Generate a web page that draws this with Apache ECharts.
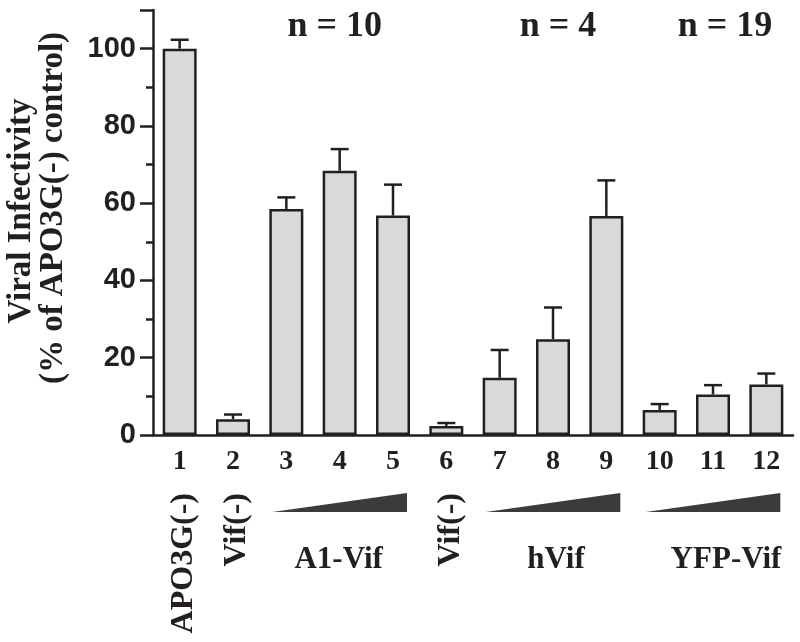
<!DOCTYPE html>
<html>
<head>
<meta charset="utf-8">
<script src="https://cdn.jsdelivr.net/npm/echarts@6/dist/echarts.min.js"></script>
<style>
html,body{margin:0;padding:0;background:#fff;}
#chart{width:800px;height:642px;}
</style>
</head>
<body>
<div id="chart"></div>
<script>
// ---- data ----
const categories = ['1','2','3','4','5','6','7','8','9','10','11','12'];
const means  = [100, 4.1, 58.5, 68.4, 56.8, 2.3, 14.8, 24.8, 56.7, 6.5, 10.5, 13.1];
const errors = [2.3, 1.2, 3.0, 5.6, 8.0, 0.8, 7.2, 8.2, 9.2, 1.5, 2.4, 2.8];
const yTickValues = [0, 20, 40, 60, 80, 100];
const yTitle1 = 'Viral Infectivity';
const yTitle2 = '(% of APO3G(-) control)';
const singleLabels = ['APO3G(-)', 'Vif(-)', 'Vif(-)'];
const singleLabelIdx = [0, 1, 5];
const groupNames = ['A1-Vif', 'hVif', 'YFP-Vif'];
const groupN = ['n = 10', 'n = 4', 'n = 19'];
const groupStart = [2, 6, 9];
const groupEnd = [4, 8, 11];

// ---- style ----
const INK = '#231f20';
const SERIF = "'Liberation Serif','Times New Roman',serif";
const SANS = "'Liberation Sans',Arial,sans-serif";

const chart = echarts.init(document.getElementById('chart'), null, {renderer: 'canvas'});

const option = {
  backgroundColor: '#fff',
  animation: false,
  grid: {left: 153, right: 7, top: 10, bottom: 207, containLabel: false},
  xAxis: {
    type: 'category',
    data: categories,
    axisLine: {show: true, lineStyle: {color: INK, width: 2.5}},
    axisTick: {show: false},
    axisLabel: {color: INK, fontFamily: SERIF, fontWeight: 'bold', fontSize: 28, margin: 13}
  },
  yAxis: {
    type: 'value',
    min: 0, max: 110, interval: 20,
    splitLine: {show: false},
    axisLine: {show: true, lineStyle: {color: INK, width: 2.5}},
    axisTick: {show: true, length: 13, lineStyle: {color: INK, width: 2.5}},
    minorTick: {show: true, splitNumber: 2, length: 7, lineStyle: {color: INK, width: 2.5}},
    axisLabel: {
      color: INK, fontFamily: SANS, fontWeight: 'bold', fontSize: 29, margin: 17,
      formatter: v => (yTickValues.indexOf(v) >= 0 ? String(v) : '')
    }
  },
  series: [
    {
      type: 'bar',
      data: means,
      barWidth: 34,
      itemStyle: {color: '#d8d9db', borderColor: INK, borderWidth: 2.5},
      z: 3
    },
    {
      type: 'custom',
      data: categories.map((c, i) => [i, means[i], means[i] + errors[i]]),
      z: 4,
      renderItem: function (params, api) {
        const p0 = api.coord([api.value(0), api.value(1)]);
        const p1 = api.coord([api.value(0), api.value(2)]);
        const half = 9;
        return {
          type: 'group',
          children: [
            {type: 'line', shape: {x1: p0[0], y1: p0[1], x2: p1[0], y2: p1[1]},
             style: {stroke: INK, lineWidth: 2.5}},
            {type: 'line', shape: {x1: p1[0] - half, y1: p1[1], x2: p1[0] + half, y2: p1[1]},
             style: {stroke: INK, lineWidth: 2.5}}
          ]
        };
      }
    },
    {
      // dose wedges below the axis
      type: 'custom',
      clip: false,
      data: groupStart.map((s, i) => [s, groupEnd[i]]),
      renderItem: function (params, api) {
        const a = api.coord([api.value(0), 0]);
        const b = api.coord([api.value(1), 0]);
        const base = a[1];
        const x0 = a[0] - 14, x1 = b[0] + 14;
        return {
          type: 'polygon',
          shape: {points: [[x0, base + 77], [x1, base + 77], [x1, base + 58]]},
          style: {fill: '#3b3b3b'}
        };
      }
    }
  ]
};
chart.setOption(option);

// text annotations positioned from the category axis
const cx = i => chart.convertToPixel({xAxisIndex: 0}, i);
const groupNameDx = [-1, 3, 13];
const groupNDx = [-5, 5, 12];
const graphics = [];
graphics.push({
  type: 'text', x: 21, y: 211, rotation: Math.PI / 2,
  style: {text: yTitle1, fill: INK, font: 'bold 33px ' + SERIF, textAlign: 'center', textVerticalAlign: 'middle'}
});
graphics.push({
  type: 'text', x: 53, y: 208, rotation: Math.PI / 2,
  style: {text: yTitle2, fill: INK, font: 'bold 33px ' + SERIF, textAlign: 'center', textVerticalAlign: 'middle'}
});
singleLabels.forEach((t, k) => {
  graphics.push({
    type: 'text', x: cx(singleLabelIdx[k]) + 4, y: 493, rotation: Math.PI / 2,
    style: {text: t, fill: INK, font: 'bold 32px ' + SERIF, textAlign: 'right', textVerticalAlign: 'middle'}
  });
});
groupNames.forEach((t, k) => {
  const mid = Math.round((groupStart[k] + groupEnd[k]) / 2);
  graphics.push({
    type: 'text', x: cx(mid) + groupNameDx[k], y: 560,
    style: {text: t, fill: INK, font: 'bold 31px ' + SERIF, textAlign: 'center', textVerticalAlign: 'middle'}
  });
  graphics.push({
    type: 'text', x: cx(mid) + groupNDx[k], y: 27,
    style: {text: groupN[k], fill: INK, font: 'bold 36px ' + SERIF, textAlign: 'center', textVerticalAlign: 'middle'}
  });
});
chart.setOption({graphic: graphics});
</script>
</body>
</html>
